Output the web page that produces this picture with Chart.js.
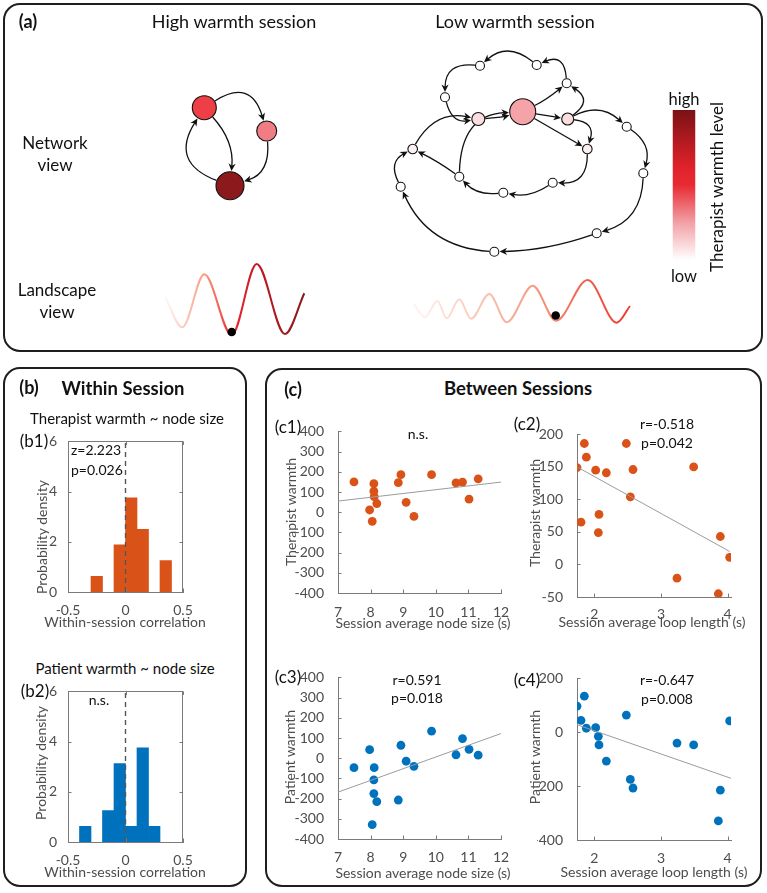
<!DOCTYPE html>
<html><head><meta charset="utf-8">
<script src="https://cdn.jsdelivr.net/npm/chart.js@4.4.1/dist/chart.umd.min.js"></script>
<style>
body{margin:0;width:767px;height:893px;position:relative;background:#fff;font-family:Lato,"Open Sans",sans-serif;overflow:hidden}
.box{position:absolute;border:2px solid #1e1e1e;border-radius:17px;box-sizing:border-box}
.t{position:absolute;white-space:nowrap;transform:translate(-50%,-50%);color:#111;line-height:1.2}
.l{position:absolute;white-space:nowrap;transform:translate(0,-50%);color:#111;line-height:1.2}
.ax{color:#4d4d4d;font-size:14px}
.rot{transform:translate(-50%,-50%) rotate(-90deg)}
.b{font-weight:700}
canvas{position:absolute}
#dbg{position:absolute;left:300px;top:330px;color:red;font-size:10px}
</style></head><body>
<div class="box" style="left:3px;top:3px;width:760px;height:349px"></div>
<div class="box" style="left:3px;top:367px;width:244px;height:520px"></div>
<div class="box" style="left:265px;top:368px;width:497px;height:519px"></div>

<canvas id="net"></canvas>
<canvas id="b1"></canvas><canvas id="b2"></canvas>
<canvas id="c1"></canvas><canvas id="c2"></canvas><canvas id="c3"></canvas><canvas id="c4"></canvas>

<div class="t b" style="left:28px;top:22px;font-size:18px">(a)</div>
<div class="t" style="left:234px;top:22px;font-size:18px">High warmth session</div>
<div class="t" style="left:515px;top:22px;font-size:18px">Low warmth session</div>
<div class="t" style="left:55px;top:154px;font-size:17px;text-align:center;line-height:22px">Network<br>view</div>
<div class="t" style="left:57px;top:301px;font-size:17px;text-align:center;line-height:22px">Landscape<br>view</div>
<div class="t" style="left:684px;top:100px;font-size:16.5px">high</div>
<div class="t" style="left:684px;top:277px;font-size:16.5px">low</div>
<div class="t rot" style="left:717px;top:187px;font-size:17px">Therapist warmth level</div>

<div class="t b" style="left:29px;top:388px;font-size:18px">(b)</div>
<div class="t b" style="left:123px;top:388px;font-size:18.5px">Within Session</div>
<div class="t" style="left:127px;top:418px;font-size:15px">Therapist warmth ~ node size</div>
<div class="t" style="left:34px;top:441px;font-size:17px">(b1)</div>
<div class="l" style="left:71px;top:450px;font-size:14px">z=2.223</div>
<div class="l" style="left:71px;top:470px;font-size:14px">p=0.026</div>
<div class="t" style="left:125px;top:668px;font-size:15px">Patient warmth ~ node size</div>
<div class="t" style="left:35px;top:691px;font-size:17px">(b2)</div>
<div class="t" style="left:99px;top:700px;font-size:14px">n.s.</div>

<div class="t b" style="left:293px;top:390px;font-size:18px">(c)</div>
<div class="t b" style="left:518px;top:388px;font-size:18.5px">Between Sessions</div>
<div class="t" style="left:288px;top:427px;font-size:17px">(c1)</div>
<div class="t" style="left:418px;top:434px;font-size:14px">n.s.</div>
<div class="t" style="left:527px;top:424px;font-size:17px">(c2)</div>
<div class="t" style="left:667px;top:424px;font-size:14px">r=-0.518</div>
<div class="t" style="left:667px;top:443px;font-size:14px">p=0.042</div>
<div class="t" style="left:288px;top:677px;font-size:17px">(c3)</div>
<div class="t" style="left:417px;top:680px;font-size:14px">r=0.591</div>
<div class="t" style="left:417px;top:698px;font-size:14px">p=0.018</div>
<div class="t" style="left:527px;top:680px;font-size:17px">(c4)</div>
<div class="t" style="left:667px;top:680px;font-size:14px">r=-0.647</div>
<div class="t" style="left:667px;top:699px;font-size:14px">p=0.008</div>

<!-- axis titles -->
<div class="t ax rot" style="left:42px;top:537px">Probability density</div>
<div class="t ax" style="left:125px;top:622px">Within-session correlation</div>
<div class="t ax rot" style="left:41px;top:763px">Probability density</div>
<div class="t ax" style="left:125px;top:872px">Within-session correlation</div>
<div class="t ax rot" style="left:291px;top:512px">Therapist warmth</div>
<div class="t ax" style="left:423px;top:623px">Session average node size (s)</div>
<div class="t ax rot" style="left:535px;top:513px">Therapist warmth</div>
<div class="t ax" style="left:652px;top:622px">Session average loop length (s)</div>
<div class="t ax rot" style="left:290px;top:757px">Patient warmth</div>
<div class="t ax" style="left:423px;top:873px">Session average node size (s)</div>
<div class="t ax rot" style="left:535px;top:757px">Patient warmth</div>
<div class="t ax" style="left:654px;top:872px">Session average loop length (s)</div>
<div id="dbg"></div>

<script>
// ---------- data ----------
// (b) histograms: bin centres (bin width 0.1) and probability density
const binCenters1 = [-0.25, -0.05, 0.05, 0.15, 0.35];
const density1    = [0.625, 1.875, 3.75, 2.5, 1.25];
const binCenters2 = [-0.35, -0.15, -0.05, 0.05, 0.15, 0.25];
const density2    = [0.625, 1.25, 3.125, 0.625, 3.75, 0.625];
const histXTicks = [-0.5, 0, 0.5];
const histYTicks = [0, 2, 4, 6];

// (c) one entry per session
const nodeSize   = [10.82, 11.02, 9.87, 11.30, 10.62, 9.09, 8.11, 8.10, 8.93, 8.10, 8.85, 9.33, 7.49, 8.05, 8.19, 7.97];
const loopLength = [1.74, 1.80, 1.85, 1.88, 2.02, 2.06, 2.07, 2.18, 2.48, 2.54, 2.58, 3.24, 3.49, 3.86, 3.89, 4.03];
const therapistWarmth = [149, 65, 186, 165, 145, 49, 77, 141, 186, 104, 146, -21, 150, -45, 43, 11];
const patientWarmth   = [97, 44, 134, 15, 17, -15, -47, -107, 64, -175, -207, -40, -47, -329, -215, 42];
// fitted regression lines (end points)
const fitC1X = [7, 12],       fitC1Y = [55, 149];
const fitC2X = [1.74, 4.03],  fitC2Y = [150, 20];
const fitC3X = [7, 12],       fitC3Y = [-168, 122];
const fitC4X = [1.74, 4.05],  fitC4Y = [28, -171];
const nodeTicks = [7, 8, 9, 10, 11, 12];
const loopTicks = [2, 3, 4];
const warmTicksWide = [-400, -300, -200, -100, 0, 100, 200, 300, 400];
const warmTicksC2 = [-50, 0, 50, 100, 150, 200];
const warmTicksC4 = [-400, -200, 0, 200];

// (a) networks: node positions, size and warmth colour; edges [from, to, bend]
const highNodeX = [204.3, 266.7, 230];
const highNodeY = [107.7, 131, 185.7];
const highNodeR = [12, 10, 14];
const highNodeColor = ['#EE3F46', '#F07C84', '#8C1A1C'];
const highEdges = [[0,1,-0.66],[1,2,-0.4],[0,2,-0.22],[2,0,-0.61]];

const lowNodeX = [522.7,478.3,567.7,480,536.7,566.7,445,587.3,412.7,400.7,459.3,503.3,552.7,626.7,643.3,596.7,494.3];
const lowNodeY = [111.7,119,119,65.7,65,83.3,97.3,149,149,186.7,176.7,192.7,182.7,126.7,173.3,233.3,251.7];
const lowNodeR = [13,6.5,6,4.5,4.5,4.5,4.5,4.8,4.8,4.5,4.5,4.5,4.5,4.5,4.5,4.5,4.5];
const lowNodeColor = ['#F4A3A8','#FBDDE0','#FBDDE0','#fff','#fff','#fff','#fff','#FDEEEF','#FDF0F0','#fff','#fff','#fff','#fff','#fff','#fff','#fff','#fff'];
const lowEdges = [[3,6,0.55],[4,3,0.42],[5,4,0.7],[0,5,0.05],[2,5,0.73],[6,1,0.45],[1,0,0.05],[0,2,0],[0,7,0],
  [2,7,-0.6],[7,12,-0.52],[12,11,-0.2],[11,10,-0.25],[10,0,-0.46],[10,8,0.04],[9,8,-0.49],[8,1,-0.36],
  [2,13,-0.35],[13,14,-0.36],[14,15,-0.36],[15,16,-0.08],[16,9,-0.3]];

// (a) landscapes: extrema of the schematic energy landscapes, and ball positions
const highLandX = [165, 182.3, 204.3, 231.7, 256.7, 285, 304.3];
const highLandY = [296.7, 327.3, 274.3, 335, 264, 334, 293.3];
const lowLandX = [413.3,425,437.3,446.7,459.3,471,489.3,506.7,532.7,556,587.7,616.7,630];
const lowLandY = [303.3,317.3,301,318.3,299.3,318.7,294,322.3,285.7,320.7,280,322.7,306];
const ballX = [231.7, 555.7], ballY = [332, 315.5];
const colorbarX = [684, 684], colorbarY = [260, 110];

// ---------- helpers ----------
const AXIS = '#7a7a7a', TXT = '#4d4d4d';
const ORANGE = '#D95319', BLUE = '#0072BD';
Chart.defaults.font.family = 'Lato, "Open Sans", sans-serif';
const pts = (xs, ys) => xs.map((v, i) => ({x: v, y: ys[i]}));
const dbg = m => { document.getElementById('dbg').textContent += ' ' + m; };

function innerTicks(box) {
  return {
    id: 'innerTicks',
    afterDraw(chart) {
      try {
        const ctx = chart.ctx, a = chart.chartArea, x = chart.scales.x, y = chart.scales.y;
        ctx.save(); ctx.strokeStyle = AXIS; ctx.lineWidth = 1; ctx.beginPath();
        for (const t of x.ticks) { const p = Math.round(x.getPixelForValue(t.value)) + 0.5;
          ctx.moveTo(p, a.bottom); ctx.lineTo(p, a.bottom - 3.5);
          if (box) { ctx.moveTo(p, a.top); ctx.lineTo(p, a.top + 3.5); } }
        for (const t of y.ticks) { const p = Math.round(y.getPixelForValue(t.value)) + 0.5;
          ctx.moveTo(a.left, p); ctx.lineTo(a.left + 3.5, p);
          if (box) { ctx.moveTo(a.right, p); ctx.lineTo(a.right - 3.5, p); } }
        if (box) {
          const tp = Math.round(a.top) + 0.5, rt = Math.round(a.right) - 0.5;
          ctx.moveTo(a.left, tp); ctx.lineTo(rt, tp); ctx.lineTo(rt, a.bottom);
        }
        ctx.stroke(); ctx.restore();
      } catch (e) { dbg(e.message); }
    }
  };
}

function axesChart(id, g, type, datasets, xs, ys, box) {
  const cv = document.getElementById(id);
  const w = g.R - g.L + g.AW + g.PR, h = g.B - g.T + g.PT + g.AH;
  cv.width = w; cv.height = h;
  Object.assign(cv.style, {left: (g.L - g.AW) + 'px', top: (g.T - g.PT) + 'px', width: w + 'px', height: h + 'px'});
  const tf = {size: 14};
  try {
  return new Chart(cv, {
    type, data: {datasets},
    options: {
      responsive: false, animation: false, events: [],
      layout: {padding: {left: 0, top: g.PT, right: g.PR, bottom: 0}, autoPadding: false},
      plugins: {legend: {display: false}, tooltip: {enabled: false}},
      scales: {
        x: {type: 'linear', min: xs.min, max: xs.max, offset: false, grid: {display: false},
            border: {display: true, color: AXIS, width: 1},
            ticks: {color: TXT, font: tf, padding: g.XP, maxRotation: 0, autoSkip: false},
            afterBuildTicks: s => { s.ticks = xs.ticks.map(v => ({value: v})); },
            afterFit: s => { s.height = g.AH; }},
        y: {type: 'linear', min: ys.min, max: ys.max, grid: {display: false},
            border: {display: true, color: AXIS, width: 1},
            ticks: {color: TXT, font: tf, padding: g.YP, autoSkip: false},
            afterBuildTicks: s => { s.ticks = ys.ticks.map(v => ({value: v})); },
            afterFit: s => { s.width = g.AW; }}
      }
    },
    plugins: [innerTicks(box)]
  });
  } catch (e) { dbg(id + ':' + e.message); }
}

// ---------- (b) histograms ----------
function hist(id, g, centers, dens, color) {
  axesChart(id, g, 'bar', [
    {type: 'line', data: pts([0, 0], [0, 6]), borderColor: '#555', borderWidth: 1.4, borderDash: [5, 4], pointRadius: 0},
    {type: 'bar', data: pts(centers, dens), backgroundColor: color, borderWidth: 0, barPercentage: 1, categoryPercentage: 1}
  ], {min: -0.5, max: 0.5, ticks: histXTicks}, {min: 0, max: 6, ticks: histYTicks}, true);
}
hist('b1', {L: 68, T: 440, R: 183, B: 592, AW: 34, AH: 24, PT: 10, PR: 14, XP: 2, YP: 3}, binCenters1, density1, ORANGE);
hist('b2', {L: 68, T: 690, R: 183, B: 842, AW: 34, AH: 24, PT: 10, PR: 14, XP: 2, YP: 3}, binCenters2, density2, BLUE);

// ---------- (c) scatters ----------
function scat(id, g, xv, yv, fx, fy, color, xs, ys) {
  axesChart(id, g, 'scatter', [
    {data: pts(fx, fy), showLine: true, borderColor: '#9b9b9b', borderWidth: 1, pointRadius: 0},
    {data: pts(xv, yv), pointRadius: 4.4, pointBackgroundColor: color, pointBorderWidth: 0, showLine: false}
  ], xs, ys, false);
}
scat('c1', {L: 338, T: 427, R: 501, B: 593, AW: 50, AH: 24, PT: 10, PR: 14, XP: 3, YP: 6}, nodeSize, therapistWarmth, fitC1X, fitC1Y, ORANGE,
  {min: 7, max: 12, ticks: nodeTicks}, {min: -400, max: 400, ticks: warmTicksWide});
scat('c2', {L: 577, T: 430, R: 731, B: 597, AW: 40, AH: 24, PT: 10, PR: 14, XP: 1, YP: 6}, loopLength, therapistWarmth, fitC2X, fitC2Y, ORANGE,
  {min: 1.74, max: 4.05, ticks: loopTicks}, {min: -50, max: 200, ticks: warmTicksC2});
scat('c3', {L: 338, T: 673, R: 501, B: 839, AW: 50, AH: 24, PT: 10, PR: 14, XP: 2, YP: 6}, nodeSize, patientWarmth, fitC3X, fitC3Y, BLUE,
  {min: 7, max: 12, ticks: nodeTicks}, {min: -400, max: 400, ticks: warmTicksWide});
scat('c4', {L: 577, T: 674, R: 731, B: 840, AW: 40, AH: 24, PT: 10, PR: 14, XP: 2, YP: 6}, loopLength, patientWarmth, fitC4X, fitC4Y, BLUE,
  {min: 1.74, max: 4.05, ticks: loopTicks}, {min: -400, max: 200, ticks: warmTicksC4});

// ---------- (a) networks and landscapes ----------
const networks = [
  {x: highNodeX, y: highNodeY, r: highNodeR, edges: highEdges},
  {x: lowNodeX, y: lowNodeY, r: lowNodeR, edges: lowEdges}
];
const edgePlugin = {
  id: 'edges',
  beforeDatasetsDraw(chart) {
    const {ctx, scales: {x, y}} = chart;
    ctx.save(); ctx.strokeStyle = '#111'; ctx.fillStyle = '#111'; ctx.lineWidth = 1.3;
    for (const net of networks) {
      for (const [a, b, bend] of net.edges) {
        const p0x = x.getPixelForValue(net.x[a]), p0y = y.getPixelForValue(net.y[a]);
        const p2x = x.getPixelForValue(net.x[b]), p2y = y.getPixelForValue(net.y[b]);
        const dx = p2x - p0x, dy = p2y - p0y;
        const cx = (p0x + p2x) / 2 - bend * dy, cy = (p0y + p2y) / 2 + bend * dx;
        let ux = cx - p0x, uy = cy - p0y, n = Math.hypot(ux, uy); ux /= n; uy /= n;
        const sx = p0x + ux * (net.r[a] + 0.5), sy = p0y + uy * (net.r[a] + 0.5);
        let vx = cx - p2x, vy = cy - p2y; n = Math.hypot(vx, vy); vx /= n; vy /= n;
        const ex = p2x + vx * (net.r[b] + 0.8), ey = p2y + vy * (net.r[b] + 0.8);
        const L = 7.5, W = 3.6;
        ctx.beginPath(); ctx.moveTo(sx, sy);
        ctx.quadraticCurveTo(cx, cy, ex + vx * L * 0.6, ey + vy * L * 0.6); ctx.stroke();
        const bx = ex + vx * L, by = ey + vy * L;
        ctx.beginPath(); ctx.moveTo(ex, ey);
        ctx.lineTo(bx - vy * W, by + vx * W);
        ctx.lineTo(ex + vx * L * 0.7, ey + vy * L * 0.7);
        ctx.lineTo(bx + vy * W, by - vx * W);
        ctx.closePath(); ctx.fill();
      }
    }
    ctx.restore();
  }
};
function hGrad(chart, x0, x1, stops) {
  const xs = chart.scales.x;
  if (!xs || !chart.chartArea) return stops[0][1];
  const g = chart.ctx.createLinearGradient(xs.getPixelForValue(x0), 0, xs.getPixelForValue(x1), 0);
  stops.forEach(s => g.addColorStop(s[0], s[1]));
  return g;
}
const netCv = document.getElementById('net');
netCv.width = 767; netCv.height = 355;
Object.assign(netCv.style, {left: '0px', top: '0px', width: '767px', height: '355px'});
new Chart(netCv, {
  type: 'scatter',
  data: {datasets: [
    {data: pts(ballX, ballY), pointRadius: 4.3, pointBackgroundColor: '#000', pointBorderWidth: 0},
    {data: pts(highNodeX, highNodeY), pointRadius: highNodeR, pointBackgroundColor: highNodeColor, pointBorderColor: '#111', pointBorderWidth: 1.1},
    {data: pts(lowNodeX, lowNodeY), pointRadius: lowNodeR, pointBackgroundColor: lowNodeColor, pointBorderColor: '#111', pointBorderWidth: 1.1},
    {data: pts(highLandX, highLandY), showLine: true, pointRadius: 0, borderWidth: 2, cubicInterpolationMode: 'monotone',
     borderColor: c => hGrad(c.chart, highLandX[0], highLandX[highLandX.length - 1],
       [[0, 'rgba(252,210,200,0.15)'], [0.12, '#FBD0C4'], [0.3, '#F7947A'], [0.48, '#EC2B2D'], [0.68, '#BE1820'], [1, '#861A1E']])},
    {data: pts(lowLandX, lowLandY), showLine: true, pointRadius: 0, borderWidth: 2, cubicInterpolationMode: 'monotone',
     borderColor: c => hGrad(c.chart, lowLandX[0], lowLandX[lowLandX.length - 1],
       [[0, 'rgba(252,225,218,0.4)'], [0.2, '#FBD6CB'], [0.45, '#F6B09E'], [0.62, '#F38C74'], [0.8, '#F05E4B'], [1, '#EC3A30']])},
    {data: pts(colorbarX, colorbarY), showLine: true, pointRadius: 0, borderWidth: 22.5, borderCapStyle: 'butt',
     borderColor: c => {
       const ch = c.chart, ys = ch.scales.y;
       if (!ys || !ch.chartArea) return '#e3202a';
       const g = ch.ctx.createLinearGradient(0, ys.getPixelForValue(colorbarY[0]), 0, ys.getPixelForValue(colorbarY[1]));
       g.addColorStop(0, '#ffffff'); g.addColorStop(0.25, '#F2A0A6'); g.addColorStop(0.5, '#E82A33');
       g.addColorStop(0.62, '#E0222A'); g.addColorStop(1, '#7A1215');
       return g;
     }}
  ]},
  options: {
    responsive: false, animation: false, events: [],
    layout: {padding: 0, autoPadding: false},
    plugins: {legend: {display: false}, tooltip: {enabled: false}},
    scales: {x: {type: 'linear', min: 0, max: 767, display: false}, y: {type: 'linear', min: 0, max: 355, reverse: true, display: false}}
  },
  plugins: [edgePlugin]
});
</script>
</body></html>
